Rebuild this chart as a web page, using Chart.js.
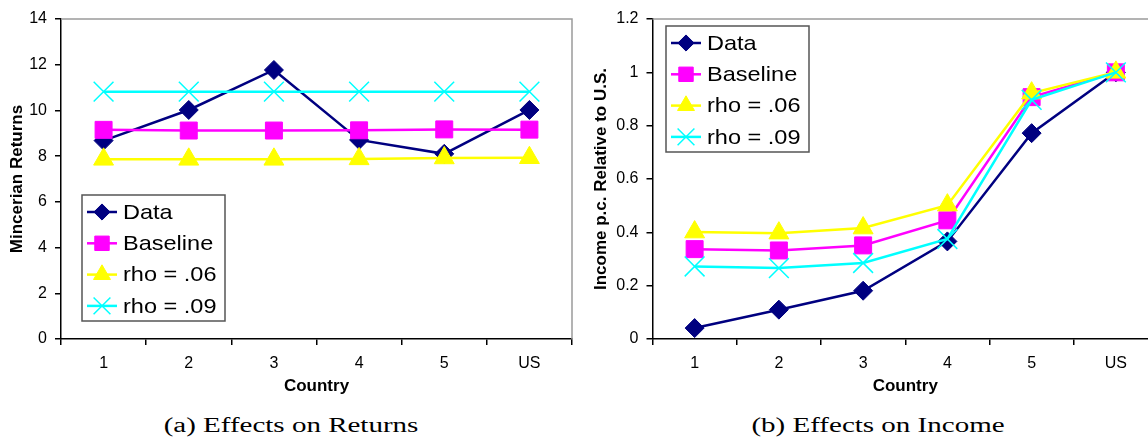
<!DOCTYPE html>
<html lang="en">
<head>
<meta charset="UTF-8">
<title>Effects on Returns and Income</title>
<script src="https://cdn.jsdelivr.net/npm/chart.js"></script>
<style>
    body { margin: 0; width: 1148px; height: 444px; overflow: hidden; background: #fff; position: relative; }
    .panel { position: absolute; top: 0; height: 400px; }
    #panelA { left: 0; width: 580px; }
    #panelB { left: 584px; width: 578px; }
    .caption { position: absolute; top: 414px; font-family: "Liberation Serif", "DejaVu Serif", serif; font-size: 20px; color: #000; transform: translateX(-50%) scaleX(1.45); white-space: nowrap; }
</style>
</head>
<body>

<div class="panel" id="panelA"><canvas id="chartA" width="580" height="400"></canvas></div>
<div class="panel" id="panelB"><canvas id="chartB" width="578" height="400"></canvas></div>
<div class="caption" style="left:291px">(a) Effects on Returns</div>
<div class="caption" style="left:878px">(b) Effects on Income</div>

<script>
    // categories
    const countries = ["1", "2", "3", "4", "5", "US"];
    const seriesNames = ["Data", "Baseline", "rho = .06", "rho = .09"];

    // (a) Mincerian returns
    const returnsData     = [8.68, 10.02, 11.77, 8.71, 8.10, 10.02];
    const returnsBaseline = [9.15, 9.12, 9.12, 9.13, 9.17, 9.16];
    const returnsRho06    = [7.86, 7.86, 7.86, 7.88, 7.92, 7.93];
    const returnsRho09    = [10.82, 10.82, 10.82, 10.82, 10.82, 10.82];
    const returnsTicks    = [0, 2, 4, 6, 8, 10, 12, 14];

    // (b) income p.c. relative to U.S.
    const incomeData     = [0.041, 0.110, 0.181, 0.366, 0.772, 1.0];
    const incomeBaseline = [0.337, 0.332, 0.351, 0.445, 0.907, 1.0];
    const incomeRho06    = [0.401, 0.397, 0.416, 0.502, 0.922, 1.0];
    const incomeRho09    = [0.272, 0.266, 0.285, 0.375, 0.897, 1.0];
    const incomeTicks    = [0, 0.2, 0.4, 0.6, 0.8, 1, 1.2];

    const FONT = '"Liberation Sans", Arial, sans-serif';

    const styles = [
        { color: "#000080", pointStyle: "rectRot",  radius: 9.5, pointBorderWidth: 1,   order: 4 },
        { color: "#FF00FF", pointStyle: "rect",     radius: 12,  pointBorderWidth: 1,   order: 3 },
        { color: "#FFFF00", pointStyle: "triangle", radius: 11.5, pointBorderWidth: 1,  order: 2 },
        { color: "#00FFFF", pointStyle: "crossRot", radius: 14,  pointBorderWidth: 1.5, order: 1 }
    ];

    function makeDatasets(seriesList) {
        return seriesList.map(function (values, i) {
            const s = styles[i];
            return {
                label: seriesNames[i],
                data: values,
                borderColor: s.color,
                backgroundColor: s.color,
                borderWidth: 2.5,
                pointStyle: s.pointStyle,
                pointRadius: s.radius,
                pointBackgroundColor: s.color,
                pointBorderColor: s.color,
                pointBorderWidth: s.pointBorderWidth,
                order: s.order,
                fill: false,
                tension: 0,
                clip: false
            };
        });
    }

    // gray frame on top and right of the plot area
    const plotFrame = {
        id: "plotFrame",
        beforeDatasetsDraw(chart) {
            const a = chart.chartArea;
            const ctx = chart.ctx;
            ctx.save();
            ctx.strokeStyle = "#9a9a9a";
            ctx.lineWidth = 1.5;
            ctx.beginPath();
            ctx.moveTo(a.left, a.top);
            ctx.lineTo(a.right, a.top);
            ctx.lineTo(a.right, a.bottom);
            ctx.stroke();
            ctx.restore();
        }
    };

    // boxed legend inside the plot area, line + marker + text
    const boxLegend = {
        id: "boxLegend",
        afterDraw(chart, args, opts) {
            const ctx = chart.ctx;
            const a = chart.chartArea;
            const x0 = a.left + opts.x, y0 = a.top + opts.y;
            ctx.save();
            ctx.fillStyle = "#fff";
            ctx.fillRect(x0, y0, opts.width, opts.height);
            ctx.strokeStyle = "#555";
            ctx.lineWidth = 1.5;
            ctx.strokeRect(x0, y0, opts.width, opts.height);
            chart.data.datasets.forEach(function (ds, i) {
                const cy = y0 + 17 + i * 31.3;
                ctx.strokeStyle = ds.borderColor;
                ctx.lineWidth = ds.borderWidth;
                ctx.beginPath();
                ctx.moveTo(x0 + 5, cy);
                ctx.lineTo(x0 + 35, cy);
                ctx.stroke();
                ctx.fillStyle = ds.pointBackgroundColor;
                ctx.strokeStyle = ds.pointBorderColor;
                ctx.lineWidth = ds.pointBorderWidth;
                Chart.helpers.drawPoint(ctx, {
                    pointStyle: ds.pointStyle,
                    radius: ds.pointRadius * 0.85,
                    borderWidth: ds.pointBorderWidth,
                    rotation: 0
                }, x0 + 20, cy);
                // legend text is a little wider than plain Arial in the original
                ctx.save();
                ctx.translate(x0 + 41, cy + 1);
                ctx.scale(1.12, 1);
                ctx.fillStyle = "#000";
                ctx.font = "21px " + FONT;
                ctx.textBaseline = "middle";
                ctx.textAlign = "left";
                ctx.fillText(ds.label, 0, 0);
                ctx.restore();
            });
            ctx.restore();
        }
    };

    function makeChart(canvasId, seriesList, ticks, yMax, yTitle, yWidth, padRight, legendPos) {
        return new Chart(document.getElementById(canvasId), {
            type: "line",
            data: { labels: countries, datasets: makeDatasets(seriesList) },
            plugins: [plotFrame, boxLegend],
            options: {
                responsive: false,
                animation: false,
                events: [],
                layout: { autoPadding: false, padding: { top: 19, right: padRight, left: 0, bottom: 0 } },
                plugins: {
                    legend: { display: false },
                    tooltip: { enabled: false },
                    boxLegend: legendPos
                },
                scales: {
                    x: {
                        offset: true,
                        grid: { offset: true, drawOnChartArea: false, drawTicks: true, tickLength: 6, color: "#000", lineWidth: 1.5 },
                        border: { color: "#000", width: 1.5 },
                        ticks: { color: "#000", font: { family: FONT, size: 16 }, padding: 9, maxRotation: 0 },
                        title: { display: true, text: "Country", color: "#000", font: { family: FONT, size: 17, weight: "bold" }, padding: { top: 0, bottom: 3 } },
                        afterFit(scale) {
                            scale.height = 61;
                            scale.paddingLeft = 0;
                            scale.paddingRight = 0;
                        }
                    },
                    y: {
                        min: 0,
                        max: yMax,
                        afterBuildTicks(scale) { scale.ticks = ticks.map(function (v) { return { value: v }; }); },
                        grid: { drawOnChartArea: false, drawTicks: true, tickLength: 6, color: "#000", lineWidth: 1.5 },
                        border: { color: "#000", width: 1.5 },
                        ticks: { color: "#000", font: { family: FONT, size: 16 }, padding: 8, callback: function (v) { return String(v); } },
                        title: { display: true, text: yTitle, color: "#000", font: { family: FONT, size: 17, weight: "bold" }, padding: { top: 7, bottom: 0 } },
                        afterFit(scale) { scale.width = yWidth; }
                    }
                }
            }
        });
    }

    makeChart("chartA",
        [returnsData, returnsBaseline, returnsRho06, returnsRho09],
        returnsTicks, 14, "Mincerian Returns", 61, 8,
        { x: 21, y: 176, width: 143, height: 126 });

    makeChart("chartB",
        [incomeData, incomeBaseline, incomeRho06, incomeRho09],
        incomeTicks, 1.2, "Income p.c. Relative to U.S.", 68.5, 4,
        { x: 13.5, y: 7, width: 143, height: 126 });
</script>

</body>
</html>
